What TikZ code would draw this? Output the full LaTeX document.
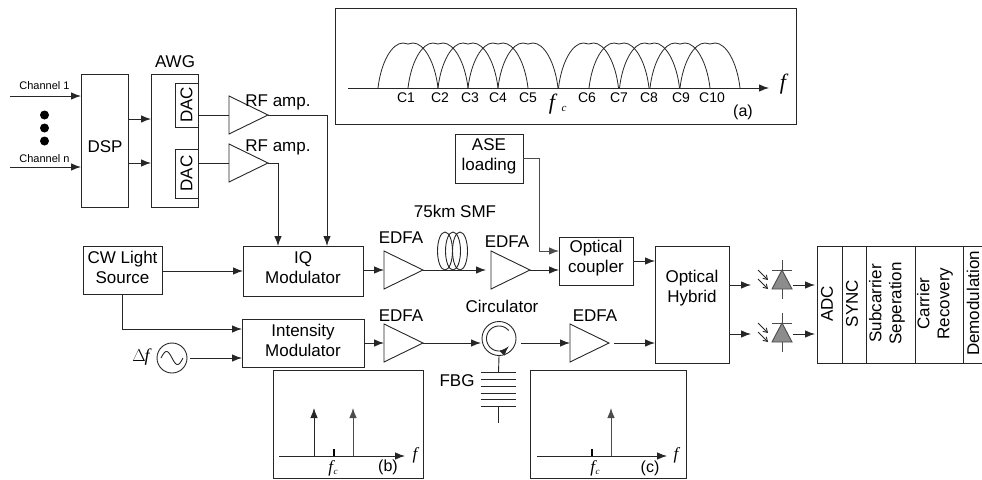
\documentclass[tikz,border=0pt]{standalone}
\usepackage{fontspec}
\setmainfont{Liberation Sans}
\newfontfamily\serifit[ItalicFont=Liberation Serif Italic]{Liberation Serif}
\usetikzlibrary{arrows.meta,calc}
\newcommand{\ampl}[3]{% name, left x, mid y
  \coordinate (#1in) at (#2,#3);
  \coordinate (#1out) at ($(#2,#3)+(39,0)$);
  \draw[ln] ($(#2,#3)+(0,-19)$) -- (#1out) -- ($(#2,#3)+(0,19)$) -- cycle;}
\newcommand{\pdiode}[3]{% name, x, y of apex
  \coordinate (#1) at (#2,#3);
  \draw[gln,fill=black!45] (#1) -- ($(#1)+(10,19)$) -- ($(#1)+(-10,19)$) -- cycle;
  \draw[gln] ($(#1)+(-10,0)$) -- ($(#1)+(10,0)$);
  \draw[gln] ($(#1)+(0,-10)$) -- (#1);
  \draw[gln] ($(#1)+(0,19)$) -- ($(#1)+(0,29)$);
  \draw[ln,-{Straight Barb[length=4pt,width=5pt]}] ($(#1)+(-24,0)$) -- ($(#1)+(-14,10)$);
  \draw[ln,-{Straight Barb[length=4pt,width=5pt]}] ($(#1)+(-24,9)$) -- ($(#1)+(-14,19)$);}
\tikzset{
  x=1pt,y=-1pt,
  ln/.style={line width=0.9pt,draw=black!85},
  gln/.style={line width=0.9pt,draw=black!70},
  arr/.style={ln,-{Latex[length=10pt,width=7.5pt]}},
  box/.style={rectangle,draw=black!85,line width=0.9pt,inner sep=0pt,outer sep=0pt,align=center,font=\fontsize{17}{20}\selectfont},
  txt/.style={inner sep=0pt,outer sep=0pt,align=center,font=\fontsize{17}{20}\selectfont},
  stxt/.style={inner sep=0pt,outer sep=0pt,font=\fontsize{11}{13}\selectfont},
  ctxt/.style={inner sep=0pt,outer sep=0pt,font=\fontsize{14}{15}\selectfont},
  mathf/.style={inner sep=0pt,outer sep=0pt,font=\fontsize{22}{24}\selectfont\serifit\itshape},
  smathf/.style={inner sep=0pt,outer sep=0pt,font=\fontsize{17}{19}\selectfont\serifit\itshape},
  lab/.style={inner sep=0pt,outer sep=0pt,font=\fontsize{16}{18}\selectfont},
}
\begin{document}
\begin{tikzpicture}[x=1pt,y=-1pt]
\useasboundingbox (0,0) rectangle (982,479);
% top-left chain
\node[box,minimum width=47pt,minimum height=133pt] (dsp) at (104.5,140.5) {};
\node[txt] (dspl) at (105,147) {DSP};
\node[box,minimum width=47pt,minimum height=133pt] (awg) at (174.5,140.5) {};
\node[txt] (awgl) at (175,62) {AWG};
\node[box,minimum width=23pt,minimum height=44pt] (dac1) at (186.5,105) {\rotatebox{90}{DAC}};
\node[box,minimum width=23pt,minimum height=49pt] (dac2) at (186.5,173.5) {\rotatebox{90}{DAC}};
\coordinate (c1) at (10,96); \coordinate (cn) at (10,167);
\node[stxt] (c1l) at (44.5,86) {Channel 1};
\node[stxt] (cnl) at (44.5,159) {Channel n};
\draw[arr] (c1) -- (c1 -| dsp.west);
\draw[arr] (cn) -- (cn -| dsp.west);
\foreach \yy/\nn in {115/a,128/b,141/c}{\node[circle,fill=black,inner sep=0pt,minimum size=9pt] (dot\nn) at (44.5,\yy) {};}
\coordinate (d1) at (128,119); \coordinate (d2) at (128,163);
\draw[ln] (d1) -- (d2);
\draw[arr] (d1) -- (d1 -| awg.west);
\draw[arr] (d2) -- (d2 -| awg.west);
\ampl{rf1}{229}{115}
\ampl{rf2}{229}{163}
\node[txt] (rfl1) at (278,102) {RF amp.};
\node[txt] (rfl2) at (278,147) {RF amp.};
\draw[ln] (rf1in -| dac1.east) -- (rf1in);
\draw[ln] (rf2in -| dac2.east) -- (rf2in);
% modulators
\node[box,minimum width=120pt,minimum height=50pt] (iq) at (303,271) {};
\node[txt] (iql) at (303,267.5) {IQ\\Modulator};
\node[box,minimum width=79pt,minimum height=48pt] (cw) at (122.5,270) {};
\node[txt] (cwl) at (122.5,267.5) {CW Light\\Source};
\node[box,minimum width=122pt,minimum height=48pt] (im) at (303,343) {};
\node[txt] (iml) at (303,340.5) {Intensity\\Modulator};
\draw[arr] (rf1out) -| (327,246);
\draw[arr] (rf2out) -| (278,246);
\draw[arr] (cw.east |- iq.west) -- (iq.west);
\draw[arr] (cw.south) |- (im.west |- 0,329);
\node[circle,draw=black!85,line width=0.9pt,minimum size=30pt,inner sep=0pt] (osc) at (172,358) {};
\draw[ln] plot[domain=-180:180,samples=41,smooth] ({172+\x/180*11},{358-6.5*sin(\x+180)});
\node[inner sep=0pt,font=\fontsize{18}{20}\selectfont\serifit] (df) at (141,357) {$\Delta$\kern-1pt{\itshape f}};
\draw[arr] ($(osc.east)+(3,0)$) -- (im.west |- osc);
% upper optical path
\ampl{e1}{384}{270}
\ampl{e2}{491}{270}
\ampl{e3}{384}{343}
\ampl{e4}{570}{343}
\node[txt] (e1l) at (401,238) {EDFA};
\node[txt] (e2l) at (507,242) {EDFA};
\node[txt] (e3l) at (401,315.5) {EDFA};
\node[txt] (e4l) at (595,315.5) {EDFA};
\node[txt] (smfl) at (455,211) {75km SMF};
\draw[arr] (iq.east |- e1in) -- (e1in);
\foreach \xx in {445,453,460}{\draw[ln] (\xx,251) ellipse [x radius=7.5,y radius=19];}
\coordinate (e2ahead) at (486,270);
\draw[arr] (e1out) -- (e2ahead);
\node[box,minimum width=74pt,minimum height=48pt] (coup) at (596,261) {};
\node[txt] (coupl) at (596,258) {Optical\\coupler};
\node[box,minimum width=68pt,minimum height=49pt] (ase) at (489,158.5) {};
\node[txt] (asel) at (489,156) {ASE\\loading};
\draw[arr] (e2out) -- (coup.west |- e2out);
\draw[arr,gln] (ase.east) -| (539,251) -- (coup.west |- 0,251);
\node[box,minimum width=74pt,minimum height=117pt] (hyb) at (692,304.5) {};
\node[txt] (hybl) at (692,288.5) {Optical\\Hybrid};
\draw[arr] (coup.east) -- (hyb.west |- coup.east);
% lower optical path
\draw[arr] (im.east |- e3in) -- (e3in);
\node[circle,draw=black!85,line width=0.9pt,minimum size=34pt,inner sep=0pt] (circ) at (499,338.5) {};
\node[txt] (circl) at (502,306) {Circulator};
\draw[ln,-{Latex[length=9pt,width=7pt]}] plot[domain=40:318,samples=40,smooth] ({499+12.5*cos(\x)},{338.5-12.5*sin(\x)});
\draw[arr] (e3out) -- (481,343);
\coordinate (cout) at (521,343);
\draw[arr] (cout) -- (e4in);
\coordinate (e4o) at (614,343);
\draw[arr] (e4o) -- (hyb.west |- e4o);
% FBG
\foreach \yy in {372.5,379,386,393,399.5,406}{\draw[ln] (481,\yy) -- (516,\yy);}
\coordinate (fbt) at (498.5,372.5); \coordinate (fbb) at (498.5,406); \coordinate (fbe) at (498.5,423);
\draw[ln] (circ.south) -- (fbt);
\draw[ln] (fbb) -- (fbe);
\node[txt] (fbgl) at (457,381) {FBG};
% receiver
\coordinate (h1) at (730,285); \coordinate (h2) at (730,334);
\draw[arr] (h1) -- (751,285);
\draw[arr] (h2) -- (751,334);
\pdiode{p1}{782}{270}
\pdiode{p2}{782}{323}
\draw[arr] (793,285) -- (815,285);
\draw[arr] (793,334) -- (815,334);
\node[box,minimum width=25pt,minimum height=117pt] (adc) at (829.5,304.5) {};
\node[box,minimum width=24pt,minimum height=117pt] (sync) at (854,304.5) {};
\node[box,minimum width=49pt,minimum height=117pt] (sub) at (890.5,304.5) {};
\node[box,minimum width=48pt,minimum height=117pt] (car) at (939,304.5) {};
\node[box,minimum width=28pt,minimum height=117pt] (dem) at (977,304.5) {};
\node[txt,rotate=90] (adcl) at (827,304) {ADC};
\node[txt,rotate=90] (syncl) at (852,303.5) {SYNC};
\node[txt,rotate=90] (subl) at (887,303.5) {Subcarrier\\Seperation};
\node[txt,rotate=90] (carl) at (935,303.5) {Carrier\\Recovery};
\node[txt,rotate=90] (deml) at (973,303.5) {Demodulation};
% inset a
\node[box,minimum width=461pt,minimum height=116pt] (ia) at (565.5,66) {};
\coordinate (axa) at (348,88); \coordinate (axb) at (769,88);
\draw[arr] (axa) -- (axb);
\foreach \xx in {378,408,438,468,498,558.5,589,619.5,650,680}{
  \draw[line width=0.8pt,draw=black!85] (\xx,88) .. controls (\xx+3,62) and (\xx+14,43) .. (\xx+25,43) .. controls (\xx+27,43) and (\xx+28,44) .. (\xx+30,44) .. controls (\xx+32,44) and (\xx+33,43) .. (\xx+35,43) .. controls (\xx+46,43) and (\xx+57,62) .. (\xx+60,88);
}
\foreach \xx/\tt in {406/C1,440/C2,470/C3,498/C4,528/C5,587/C6,619/C7,649/C8,681/C9,712/C10}{\node[ctxt] (l\tt) at (\xx,98) {\tt};}
\node[mathf] (fa) at (783,84) {f};
\node[mathf] (fca) at (552,104) {f};
\node[inner sep=0pt,font=\fontsize{11}{13}\selectfont\serifit\itshape] (fcb) at (564,109) {c};
\node[lab] (al) at (743,112) {(a)};
% inset b
\node[box,minimum width=150pt,minimum height=108pt] (ib) at (348,424) {};
\draw[arr] (279,456) -- (405,456);
\draw[arr] (314,456) -- (314,408);
\draw[arr,gln] (353,456) -- (353,408);
\draw[line width=1.4pt,draw=black] (334,449) -- (334,456);
\node[smathf] (fb) at (415,455) {f};
\node[inner sep=0pt] (fcbl) at (333,468) {\fontsize{17}{19}\selectfont\serifit\itshape f\kern0.5pt\raisebox{-2pt}{\fontsize{9}{10}\selectfont c}};
\node[lab] (bl) at (388,467) {(b)};
% inset c
\node[box,minimum width=156pt,minimum height=108pt] (ic) at (608,424) {};
\draw[arr] (537,456) -- (667,456);
\draw[arr,gln] (611,456) -- (611,408);
\draw[line width=1.4pt,draw=black] (592,449) -- (592,456);
\node[smathf] (fc2) at (676,455) {f};
\node[inner sep=0pt] (fccl) at (595,468) {\fontsize{17}{19}\selectfont\serifit\itshape f\kern0.5pt\raisebox{-2pt}{\fontsize{9}{10}\selectfont c}};
\node[lab] (cl) at (650,468) {(c)};
\end{tikzpicture}
\end{document}
